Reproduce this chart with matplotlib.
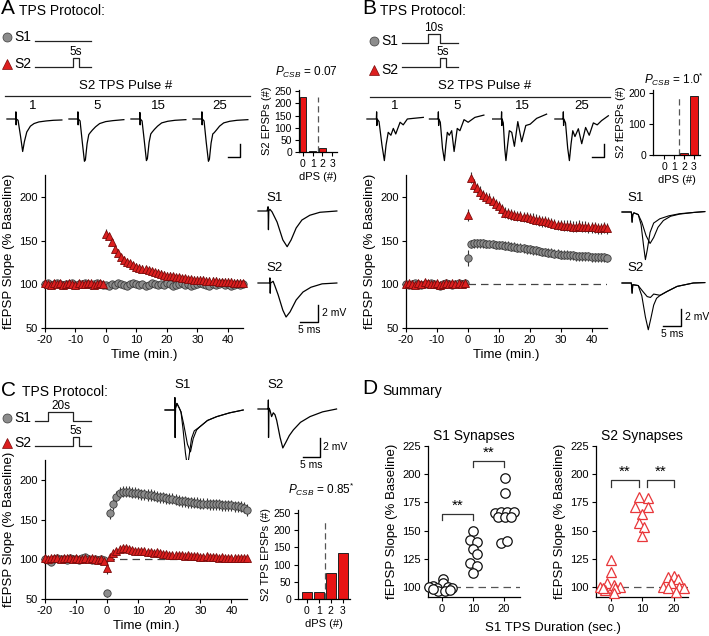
import numpy as np
import matplotlib.pyplot as plt

plt.rcParams['font.family'] = ['Liberation Sans', 'DejaVu Sans']
plt.rcParams['mathtext.fontset'] = 'custom'
plt.rcParams['mathtext.it'] = 'Liberation Sans:italic'
plt.rcParams['mathtext.rm'] = 'Liberation Sans'
plt.rcParams['axes.linewidth'] = 0.9
plt.rcParams['axes.unicode_minus'] = False

# ---------------- time courses (% baseline, one point per minute) ----------------
a_s1_base = [100, 101, 99, 100, 101, 100, 99, 100, 100, 101, 99, 100, 100, 101, 100, 99, 100, 101, 100, 99]
a_s2_base = [101, 100, 99, 101, 100, 102, 99, 100, 101, 100, 99, 101, 100, 100, 102, 101, 99, 100, 101, 100]
a_s1_post = [99, 98, 100, 99, 101, 100, 99, 98, 100, 101, 100, 99, 100, 98, 99, 101, 100, 99, 100, 99,
             101, 100, 98, 99, 100, 101, 99, 100, 98, 99, 100, 101, 100, 99, 98, 100, 99, 100, 101, 99,
             100, 98, 99, 100, 99, 100]
a_s2_post = [157, 155, 148, 140, 136, 131, 128, 126, 124, 122, 120, 119, 118, 117, 116, 115, 114, 113, 112, 111,
             110, 110, 109, 108, 108, 107, 107, 106, 106, 105, 105, 105, 105, 104, 104, 104, 104, 103, 103, 103,
             103, 103, 102, 102, 102, 101]

b_s1_base = [100, 99, 100, 101, 100, 99, 100, 100, 101, 100, 99, 98, 100, 101, 100, 99, 100, 101, 100, 101]
b_s2_base = [100, 101, 100, 99, 101, 100, 103, 101, 100, 100, 101, 99, 100, 101, 100, 101, 100, 101, 100, 101]
b_s1_post = [130, 146, 147, 147, 147, 147, 146, 146, 146, 145, 145, 145, 144, 144, 143, 143, 142, 142, 141, 140,
             140, 139, 139, 138, 137, 137, 136, 136, 135, 135, 134, 134, 134, 133, 133, 132, 132, 132, 132, 132,
             131, 131, 131, 131, 131, 130]
b_s2_post = [179, 222, 214, 210, 206, 202, 200, 198, 195, 192, 189, 186, 182, 181, 180, 179, 178, 178, 177, 177,
             176, 175, 174, 173, 172, 172, 171, 170, 169, 168, 168, 167, 167, 167, 166, 166, 167, 166, 166, 165,
             165, 165, 164, 164, 165, 164]

c_s1_base = [100, 99, 97, 100, 101, 100, 100, 99, 101, 100, 100, 99, 102, 103, 100, 99, 100, 99, 100, 99]
c_s2_base = [101, 100, 101, 102, 101, 100, 102, 101, 101, 100, 101, 100, 100, 101, 100, 101, 100, 99, 100, 98]
c_s1_post = [57, 158, 169, 179, 184, 185, 185, 185, 184, 184, 183, 182, 182, 181, 181, 180, 179, 178, 178, 177,
             176, 176, 175, 174, 173, 173, 172, 172, 171, 171, 170, 170, 170, 169, 169, 169, 169, 168, 168, 168,
             168, 167, 167, 166, 165, 162]
c_s2_post = [89, 103, 108, 111, 113, 114, 114, 113, 112, 111, 111, 110, 110, 109, 109, 108, 109, 108, 107, 107,
             106, 106, 105, 105, 105, 104, 105, 104, 104, 104, 103, 103, 104, 103, 103, 103, 102, 103, 102, 102,
             102, 102, 101, 102, 101, 101]

# typical SEM: (baseline, first post point, rest of post)
a_sem = {'s1': (1.5, 2, 2), 's2': (1.5, 6, 4)}
b_sem = {'s1': (1.5, 9, 5), 's2': (1.5, 7, 6)}
c_sem = {'s1': (1.5, 4, 7), 's2': (1.5, 8, 3.5)}

# ---------------- dPS histograms ----------------
dps = [0, 1, 2, 3]
a_dps_counts = [228, 5, 18, 0]
b_dps_counts = [0, 0, 5, 192]
c_dps_counts = [19, 19, 77, 135]

# ---------------- summary (D) ----------------
d_s1_x0 = [0.2, -2.8, 0.2, -4.1, -1.7, 2.0, 3.1, -1.2, 1.0, 2.6, -2.8]
d_s1_y0 = [106.8, 101, 103, 100, 99, 100, 99, 96, 96, 97, 98]
d_s1_x10 = [10.1, 9.0, 11.4, 10.1, 11.4, 9.0, 11.4, 10.1]
d_s1_y10 = [150, 141.7, 139.6, 133.4, 129, 121, 118.6, 112.7]
d_s1_x20 = [20.3, 20.3, 17.1, 19.0, 21.1, 23.2, 18.2, 20.3, 22.2, 19.0, 21.1]
d_s1_y20 = [197, 183.6, 165.9, 166, 166, 166, 161.8, 161.8, 161.8, 138.7, 141]
d_s2_x0 = [-0.1, -0.1, -1.4, -3.5, 0.8, 2.9, -1.9, 1.3, 0.8, -2.7]
d_s2_y0 = [123.4, 113.6, 103, 100, 101.8, 100, 97.3, 98.8, 94.4, 99]
d_s2_x10 = [8.8, 11.7, 7.7, 11.7, 9.7, 8.8, 10.6, 9.7]
d_s2_y10 = [179.5, 178.6, 171, 170.6, 164.7, 156.5, 153, 145]
d_s2_x20 = [18.2, 19.9, 21.4, 19.0, 16.4, 18.2, 21.7, 23.3, 20.6]
d_s2_y20 = [108.6, 109.8, 107.4, 103.8, 99.7, 98.8, 99.7, 98.8, 95.8]

# ---------------- example traces (ms, mV) ----------------
a_pulse_1 = [(0.8, 0), (4.4, 0), (4.5, 1.1), (4.6, -0.9), (4.7, 0), (5.4, -0.2), (6.4, -2.6), (7.3, -5.0),
             (8.0, -3.5), (9.0, -2.0), (10.5, -1.1), (12, -0.7), (14, -0.45), (17, -0.3), (20, -0.2), (23.5, -0.15)]
a_pulse_5 = [(0.8, 0), (4.4, 0), (4.5, 1.1), (4.6, -0.9), (4.7, 0), (5.4, -0.3), (6.3, -3.5), (7.2, -6.5),
             (7.6, -6.3), (8.3, -3.8), (9.0, -2.4), (9.6, -2.1), (10.5, -1.7), (11.8, -1.2), (13.5, -0.7),
             (16, -0.4), (19, -0.25), (23.5, -0.1)]
a_pulse_15 = [(0.8, 0), (4.4, 0), (4.5, 1.0), (4.6, -0.9), (4.7, 0), (5.4, -0.3), (6.3, -3.3), (7.2, -6.4),
              (7.6, -6.1), (8.3, -3.6), (9.0, -2.3), (9.6, -2.0), (10.5, -1.6), (11.8, -1.1), (13.5, -0.6),
              (16, -0.35), (19, -0.2), (23.5, -0.1)]
a_pulse_25 = [(0.8, 0), (4.4, 0), (4.5, 1.1), (4.6, -0.9), (4.7, 0), (5.4, -0.3), (6.3, -3.6), (7.2, -6.5),
              (7.6, -6.2), (8.3, -3.7), (9.0, -2.3), (9.6, -2.1), (10.5, -1.7), (11.8, -1.1), (13.5, -0.6),
              (16, -0.35), (19, -0.2), (23.5, -0.1)]
b_pulse_1 = [(0.8, 0), (4.7, 0), (4.8, 1.1), (4.9, -1.0), (5.0, 0), (5.8, -0.4), (7.0, -4.0), (8.0, -6.4),
             (8.7, -4.0), (9.6, -2.05), (10.7, -2.5), (11.7, -1.45), (12.7, -2.3), (14.5, -0.5), (15.8, -0.9),
             (17.5, 0), (20, 0.1), (24.1, 0.25)]
b_pulse_5 = [(1.0, 0), (4.6, 0), (4.7, 1.1), (4.8, -1.0), (4.9, 0), (5.5, -0.5), (6.4, -4.5), (7.2, -6.4),
             (7.8, -4.0), (8.4, -2.05), (9.2, -2.5), (10.2, -1.8), (11.2, -5.0), (12.5, -1.45), (13.6, -1.8),
             (15.3, -0.1), (17, -0.5), (19.8, 0.25), (23.5, 0.6)]
b_pulse_15 = [(1.5, 0), (5.1, 0), (5.2, 1.1), (5.3, -1.0), (5.4, 0), (5.9, -0.6), (6.5, -4.5), (7.0, -6.4),
              (7.7, -4.0), (8.4, -1.8), (9.4, -2.05), (10.5, -4.2), (11.9, -0.4), (13.5, -3.5), (15.2, -1.0),
              (17, -0.8), (19.7, 0.1), (23.8, 0.75)]
b_pulse_25 = [(1.6, 0), (5.0, 0), (5.1, 1.1), (5.2, -1.0), (5.3, 0), (6.0, -0.6), (6.9, -4.5), (7.6, -6.4),
              (8.3, -3.8), (9.0, -1.8), (9.9, -2.7), (11.3, -1.5), (12.7, -3.8), (14.3, -1.3), (15.8, -2.5),
              (17.5, -0.6), (19.1, -0.9), (20.9, -0.25), (23.7, 0.5)]
a_s1_trace = [(0, 0), (2.5, 0), (2.8, 0.5), (2.9, -2.2), (3.0, 0), (3.3, 0.2), (3.9, -0.1), (5.3, -1.3),
              (6.9, -3.4), (8.1, -4.2), (9.2, -3.4), (10.6, -2.0), (12.2, -1.06), (14.4, -0.5), (17.2, -0.15),
              (21.9, 0)]
a_s2_trace = [(0, 0), (3.2, 0), (3.3, 0.6), (3.4, -1.2), (3.5, 0), (4.2, 0.2), (4.7, -0.35), (5.6, -1.4),
              (6.9, -3.2), (7.8, -4.0), (8.9, -3.4), (10.6, -2.0), (12.5, -1.06), (14.7, -0.5), (17.8, -0.1),
              (21.9, 0)]
b_s1_trace_a = [(0, 0), (2.6, 0), (2.8, -1.2), (3.0, -0.3), (3.3, -0.1), (4.5, -0.3), (5.3, -1.5), (6.0, -4.0),
                (6.5, -5.6), (7.0, -4.5), (7.8, -2.4), (8.8, -1.3), (10.5, -0.8), (13, -0.45), (16, -0.2),
                (20, -0.05), (23, 0.05)]
b_s1_trace_b = [(0, 0), (2.6, 0), (2.8, -1.2), (3.0, -0.3), (3.3, -0.1), (4.5, -0.3), (5.5, -1.2), (6.7, -2.8),
                (7.8, -3.7), (8.8, -3.0), (10, -1.8), (11.5, -1.0), (13.5, -0.5), (16, -0.25), (20, -0.05),
                (23, 0.05)]
b_s2_trace_a = [(0, 0), (2.6, 0), (2.8, -1.2), (3.0, -0.2), (4.5, -0.3), (5.5, -1.5), (6.5, -4.0), (7.3, -5.5),
                (8.0, -4.2), (8.8, -2.6), (9.6, -1.8), (10.6, -1.45), (12.5, -1.0), (15.3, -0.4), (19.8, 0),
                (23, 0.05)]
b_s2_trace_b = [(0, 0), (2.6, 0), (2.8, -1.2), (3.0, -0.2), (4.5, -0.3), (5.8, -1.0), (7.0, -1.6), (7.9, -1.7),
                (8.8, -1.3), (10.6, -1.45), (12.5, -1.0), (15.3, -0.4), (19.8, 0), (23, 0.05)]
c_s1_trace_a = [(0, 0), (2.8, 0), (2.9, 1.3), (3.0, -2.9), (3.1, 0.2), (3.5, 0.7), (4.2, 0.2), (4.7, -0.2),
                (5.3, -2.0), (6.0, -4.5), (6.6, -6.0), (7.1, -4.8), (7.8, -3.0), (8.6, -2.2), (10.3, -1.75),
                (12.5, -1.1), (15.2, -0.7), (19, -0.3), (23, 0)]
c_s1_trace_b = [(0, 0), (2.8, 0), (2.9, 1.3), (3.0, -2.9), (3.1, 0.2), (3.5, 0.7), (4.2, 0.2), (4.7, -0.2),
                (5.5, -1.5), (6.6, -3.6), (7.5, -4.4), (8.3, -3.0), (9.3, -2.1), (10.3, -1.75), (12.5, -1.1),
                (15.2, -0.7), (19, -0.3), (23, 0)]
c_s2_trace = [(0, 0), (3.0, 0), (3.05, 0.95), (3.1, -3.0), (3.2, 0.1), (3.5, -0.1), (4.0, -0.8), (4.5, -0.4),
              (5.0, -0.6), (5.5, -1.2), (6.5, -3.0), (7.3, -4.1), (8.2, -3.5), (9.2, -2.8), (10.4, -2.2),
              (12.5, -1.4), (15.3, -0.8), (19, -0.3), (23.1, 0)]

# ---------------- protocols: (pulse start s, duration s) ----------------
a_proto = {'S1': None, 'S2': (31, 5)}
b_proto = {'S1': (21, 10), 'S2': (31, 5)}
c_proto = {'S1': (11, 20), 'S2': (31, 5)}

GRAY, GRAY_EDGE = '#8c8c8c', '#3c3c3c'
RED, RED_EDGE = '#dc1f1f', '#7a0a0a'
BAR_RED = '#e81414'
OPEN_RED = '#e8373a'

W, H = 709, 636
fig = plt.figure(figsize=(W / 100, H / 100), dpi=100)
overlay = fig.add_axes([0, 0, 1, 1], zorder=5)
overlay.set_xlim(0, W)
overlay.set_ylim(H, 0)
overlay.axis('off')


def px_axes(x0, y0, x1, y1):
    return fig.add_axes([x0 / W, 1 - y1 / H, (x1 - x0) / W, (y1 - y0) / H])


def ftext(x, y, s, size=9, **kw):
    kw.setdefault('ha', 'left')
    kw.setdefault('va', 'center')
    overlay.text(x, y, s, fontsize=size, **kw)


def style(ax, size=8):
    ax.spines[['top', 'right']].set_visible(False)
    ax.tick_params(direction='out', length=3, width=0.8, labelsize=size, pad=2)


def time_course(ax, s1_base, s1_post, s2_base, s2_post, sem, dashed):
    if dashed:
        ax.plot([0, 45], [100, 100], ls=(0, (6, 4)), color='#444444', lw=0.9, zorder=1)
    series = [(s1_base, s1_post, sem['s1'], 'o', GRAY, GRAY_EDGE, 5.3),
              (s2_base, s2_post, sem['s2'], '^', RED, RED_EDGE, 5.6)]
    for base, post, (e_b, e_0, e_p), mk, fc, ec, ms in series:
        t = np.concatenate([np.arange(-len(base), 0), np.arange(len(post))])
        v = np.concatenate([base, post])
        err = np.concatenate([np.full(len(base), e_b), [e_0], np.full(len(post) - 1, e_p)])
        ax.errorbar(t, v, yerr=err, fmt='none', ecolor='#333333', elinewidth=0.8, zorder=2, clip_on=False)
        ax.plot(t, v, ls='none', marker=mk, ms=ms, mfc=fc, mec=ec, mew=0.6, zorder=3, clip_on=False)
    ax.set_xlim(-20, 45)
    ax.set_ylim(50, 225)
    ax.set_xticks(range(-20, 41, 10))
    ax.set_yticks([50, 100, 150, 200])
    style(ax)
    ax.set_ylabel('fEPSP Slope (% Baseline)', fontsize=9.5, labelpad=3)
    ax.set_xlabel('Time (min.)', fontsize=9.5, labelpad=3)


def dps_hist(ax, counts, width, ymax, yticks, ylabel, dash_top):
    ax.bar(dps, counts, width=width, color=BAR_RED, edgecolor='#222222', linewidth=0.7)
    ax.plot([1.5, 1.5], [0, dash_top], ls=(0, (5, 3)), color='#555555', lw=0.9)
    ax.set_ylim(0, ymax)
    ax.set_xticks(dps)
    ax.set_yticks(yticks)
    style(ax, 7.5)
    ax.set_ylabel(ylabel, fontsize=8, labelpad=2)
    ax.set_xlabel('dPS (#)', fontsize=8, labelpad=2)


def trace_axes(x0, ybase, width_ms, up_mv, down_mv, px_ms, px_mv):
    ax = px_axes(x0, ybase - up_mv * px_mv, x0 + width_ms * px_ms, ybase + down_mv * px_mv)
    ax.set_xlim(0, width_ms)
    ax.set_ylim(-down_mv, up_mv)
    ax.axis('off')
    return ax


def draw_trace(ax, pts, lw=0.9):
    arr = np.array(pts)
    ax.plot(arr[:, 0], arr[:, 1], color='black', lw=lw, clip_on=False)


def scale_bar(ax, t_end, v_low, labels=True):
    ax.plot([t_end - 5, t_end, t_end], [v_low, v_low, v_low + 2], color='black', lw=1.0, clip_on=False)
    if labels:
        ax.text(t_end + 1, v_low + 1.1, '2 mV', fontsize=7.5, ha='left', va='center')
        ax.text(t_end - 2.5, v_low - 0.35, '5 ms', fontsize=7.5, ha='center', va='top')


def protocol(x_line, rows, proto, labels):
    px_s = 1.22
    for (name, y_line, y_mark), mk, col, ec in zip(rows, ['o', '^'], [GRAY, RED], [GRAY_EDGE, RED_EDGE]):
        overlay.plot([x_line - 28], [y_mark], ls='none', marker=mk, ms=6.5 if mk == 'o' else 7,
                     mfc=col, mec=ec, mew=0.5)
        ftext(x_line - 21, y_mark, name, 10)
        pulse = proto[name]
        if pulse is None:
            overlay.plot([x_line, x_line + 46 * px_s], [y_line, y_line], color='#222222', lw=0.9)
        else:
            s, d = pulse
            xs = [x_line, x_line + s * px_s, x_line + s * px_s, x_line + (s + d) * px_s,
                  x_line + (s + d) * px_s, x_line + 46 * px_s]
            ys = [y_line, y_line, y_line - 9, y_line - 9, y_line, y_line]
            overlay.plot(xs, ys, color='#222222', lw=0.9)
            ftext(x_line + (s + d / 2) * px_s, y_line - 15, labels[name], 8.5, ha='center')


# ======================= Panel A =======================
ftext(1, 9, 'A', 15)
ftext(19, 11, 'TPS Protocol:', 10)
protocol(35, [('S1', 41, 37), ('S2', 67, 64)], a_proto, {'S2': '5s'})
ftext(126, 86, 'S2 TPS Pulse #', 9.5, ha='center')
overlay.plot([5, 250], [96, 96], color='#222222', lw=0.9)
for x, lab in zip([33, 97, 158, 220], ['1', '5', '15', '25']):
    ftext(x, 106, lab, 9.5, ha='center')
for x0, tr in zip([5, 67, 129, 191], [a_pulse_1, a_pulse_5, a_pulse_15, a_pulse_25]):
    ax = trace_axes(x0, 119, 24, 1.85, 6.9, 2.42, 6.5)
    draw_trace(ax, tr, 0.9)
scale_bar(ax, 20.3, -5.9, labels=False)

ax = px_axes(45, 175, 243, 328)
time_course(ax, a_s1_base, a_s1_post, a_s2_base, a_s2_post, a_sem, False)

ax = px_axes(299, 90, 337, 152)
dps_hist(ax, a_dps_counts, 0.65, 255, [0, 50, 100, 150, 200, 250], 'S2 EPSPs (#)', 225)
ax.set_xlim(-0.4, 3.5)
ftext(306, 72, r'$P_{CSB}$ = 0.07', 8.5, ha='center')

ftext(266, 198, 'S1', 9.5)
ax = trace_axes(258, 211, 22.8, 1.3, 5.2, 3.6, 8.5)
draw_trace(ax, a_s1_trace)
ftext(266, 268, 'S2', 9.5)
ax = trace_axes(258, 283, 22.8, 1.3, 5.2, 3.6, 8.5)
draw_trace(ax, a_s2_trace)
scale_bar(ax, 16.7, -4.6)

# ======================= Panel B =======================
ftext(362, 9, 'B', 15)
ftext(380, 11, 'TPS Protocol:', 10)
protocol(402, [('S1', 43, 41), ('S2', 67, 70)], b_proto, {'S1': '10s', 'S2': '5s'})
ftext(485, 86, 'S2 TPS Pulse #', 9.5, ha='center')
overlay.plot([370, 610], [97, 97], color='#222222', lw=0.9)
for x, lab in zip([395, 457, 522, 582], ['1', '5', '15', '25']):
    ftext(x, 106, lab, 9.5, ha='center')
for x0, tr in zip([365, 427, 489, 551], [b_pulse_1, b_pulse_5, b_pulse_15, b_pulse_25]):
    ax = trace_axes(x0, 119, 24, 1.85, 6.9, 2.42, 6.5)
    draw_trace(ax, tr, 0.9)
scale_bar(ax, 21.9, -5.9, labels=False)

ax = px_axes(406, 175, 607, 328)
time_course(ax, b_s1_base, b_s1_post, b_s2_base, b_s2_post, b_sem, True)

ax = px_axes(653, 90, 700, 155)
dps_hist(ax, b_dps_counts, 0.8, 210, [0, 100, 200], 'S2 fEPSPs (#)', 187)
ax.set_xlim(-1.1, 3.6)
ftext(674, 79, r'$P_{CSB}$ = 1.0$^{*}$', 8.5, ha='center')

ftext(627, 198, 'S1', 9.5)
ax = trace_axes(622, 212, 23.5, 1.3, 5.9, 3.6, 8.5)
draw_trace(ax, b_s1_trace_a, 0.8)
draw_trace(ax, b_s1_trace_b, 0.8)
ftext(627, 268, 'S2', 9.5)
ax = trace_axes(622, 283, 23.5, 1.3, 6.0, 3.6, 8.5)
draw_trace(ax, b_s2_trace_a, 0.8)
draw_trace(ax, b_s2_trace_b, 0.8)
scale_bar(ax, 16.4, -5.1)

# ======================= Panel C =======================
ftext(1, 390, 'C', 15)
ftext(22, 392, 'TPS Protocol:', 10)
protocol(35, [('S1', 421, 418), ('S2', 446, 443)], c_proto, {'S1': '20s', 'S2': '5s'})

ftext(174, 385, 'S1', 9.5)
ax = trace_axes(165, 410, 24, 1.5, 6.5, 3.4, 9.5)
draw_trace(ax, c_s1_trace_a, 0.8)
draw_trace(ax, c_s1_trace_b, 0.8)
ftext(267, 385, 'S2', 9.5)
ax = trace_axes(258, 409, 24, 1.5, 5.0, 3.4, 9.5)
draw_trace(ax, c_s2_trace, 0.9)
scale_bar(ax, 18.2, -5.05)

ax = px_axes(45, 460, 247, 599)
time_course(ax, c_s1_base, c_s1_post, c_s2_base, c_s2_post, c_sem, True)

ax = px_axes(298, 510, 350, 599)
dps_hist(ax, c_dps_counts, 0.8, 259, [0, 50, 100, 150, 200, 250], 'S2 TPS EPSPs (#)', 230)
ax.set_xlim(-0.75, 3.6)
ftext(321, 489, r'$P_{CSB}$ = 0.85$^{*}$', 8.5, ha='center')

# ======================= Panel D =======================
ftext(362, 389, 'D', 15)
ftext(382, 391, 'Summary', 10)


def summary(ax, groups, marker, color, ms, title, inner):
    ax.axhline(100, ls=(0, (6, 4)), color='#555555', lw=0.9, zorder=1)
    for xs, ys in groups:
        ax.plot(xs, ys, ls='none', marker=marker, ms=ms, mfc='white', mec=color, mew=0.9,
                zorder=3, clip_on=False)
    tops = [max(ys) for _, ys in groups]
    for i, (a, b) in enumerate([(0, 1), (1, 2)]):
        top = max(tops[a], tops[b]) + 15
        xa, xb = 10 * a, 10 * b
        if inner:
            xa, xb = (xa, xb - 1.2) if i == 0 else (xa + 1.5, xb)
        ax.plot([xa, xa, xb, xb], [top - 6, top, top, top - 6], color='#333333', lw=0.9)
        ax.text((xa + xb) / 2, top + 1, '**', fontsize=11, ha='center', va='bottom')
    ax.set_ylim(91, 225)
    ax.set_yticks([100, 125, 150, 175, 200, 225])
    ax.set_xticks([0, 10, 20])
    style(ax, 8)
    ax.set_ylabel('fEPSP Slope (% Baseline)', fontsize=9.5, labelpad=3)
    ax.set_title(title, fontsize=10, pad=4)


ax = px_axes(428, 446, 520, 597)
summary(ax, [(d_s1_x0, d_s1_y0), (d_s1_x10, d_s1_y10), (d_s1_x20, d_s1_y20)], 'o', '#111111', 6.8,
        'S1 Synapses', False)
ax.set_xlim(-4.5, 25.2)
ax = px_axes(596, 446, 688, 597)
summary(ax, [(d_s2_x0, d_s2_y0), (d_s2_x10, d_s2_y10), (d_s2_x20, d_s2_y20)], '^', OPEN_RED, 7.2,
        'S2 Synapses', True)
ax.set_xlim(-4.8, 24.5)
ftext(553, 628, 'S1 TPS Duration (sec.)', 9.5, ha='center')

fig.savefig('out.png', dpi=100)
